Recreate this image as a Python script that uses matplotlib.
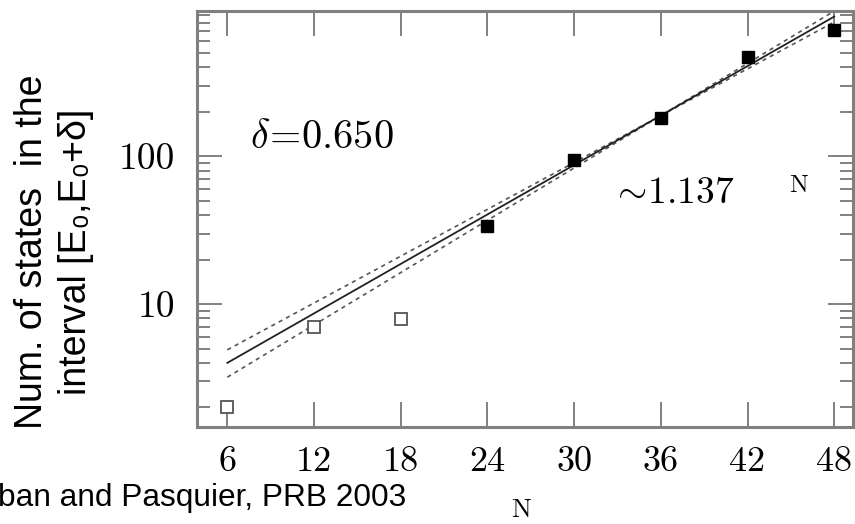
import matplotlib
matplotlib.use("Agg")
import matplotlib.pyplot as plt
from matplotlib.ticker import NullFormatter

plt.rcParams['mathtext.fontset'] = 'cm'

# data
N_open = [6, 12, 18]
states_open = [2.02, 7.03, 7.9]
N_filled = [24, 30, 36, 42, 48]
states_filled = [33.6, 95, 180, 469, 718]

# fit ~1.137^N and its two dashed bounds (end points, straight on log axis)
fit_N = [6, 48]
fit_mid = [4.0, 880]
fit_a = [4.9, 809]
fit_b = [3.2, 959]

xticks = [6, 12, 18, 24, 30, 36, 42, 48]
yticks = [10, 100]

fig = plt.figure(figsize=(8.55, 5.24), dpi=100)
ax = fig.add_axes([197/855, 1-426.7/524, (853-197)/855, (426.7-11)/524])

ax.plot(fit_N, fit_a, color='#555555', lw=1.2, dashes=(2.5, 2.5))
ax.plot(fit_N, fit_b, color='#555555', lw=1.2, dashes=(2.5, 2.5))
ax.plot(fit_N, fit_mid, color='#222222', lw=1.3)

ax.plot(N_open, states_open, 's', ms=8, mfc='white', mec='#555555', mew=1.3)
ax.plot(N_filled, states_filled, 's', ms=8.5, color='black')

ax.set_yscale('log')
ax.set_xlim(3.9, 49.3)
ax.set_ylim(1.48, 960)

ax.set_xticks(xticks)
ax.set_xticklabels([str(v) for v in xticks], family='cmr10', fontsize=26)
ax.set_yticks(yticks)
ax.set_yticklabels([str(v) for v in yticks], family='cmr10', fontsize=27)
ax.yaxis.set_minor_formatter(NullFormatter())
ax.xaxis.set_minor_locator(plt.NullLocator())

ax.tick_params(which='major', direction='in', top=True, right=True,
               length=18, width=1.4, color='#808080', pad=14)
ax.tick_params(axis='y', which='major', pad=16)
ax.tick_params(which='minor', direction='in', right=True,
               length=9.5, width=1.4, color='#808080')
for sp in ax.spines.values():
    sp.set_color('#808080')
    sp.set_linewidth(2.2)

fig.text(250/855, 1-137/524, r'$\delta\!=\!0.650$', fontsize=29,
         ha='left', va='center')
fig.text(611/855, 1-193/524, r'$\sim\!1.137$', fontsize=27,
         ha='left', va='center')
fig.text(799/855, 1-185/524, r'$\mathrm{N}$', fontsize=18,
         ha='center', va='center')

fig.text(521/855, 1-510/524, r'$\mathrm{N}$', fontsize=19,
         ha='center', va='center')

fig.text(54/855, 1-252/524, 'Num. of states  in the\ninterval [E\u2080,E\u2080+\u03b4]',
         family=['Liberation Sans', 'DejaVu Sans'], fontsize=27, rotation=90,
         ha='center', va='center', multialignment='center', linespacing=1.32)

fig.text(-0.002, 1-498/524, 'ban and Pasquier, PRB 2003',
         family=['Liberation Sans', 'DejaVu Sans'], fontsize=22.8,
         ha='left', va='center')

fig.savefig('out.png', dpi=100)
